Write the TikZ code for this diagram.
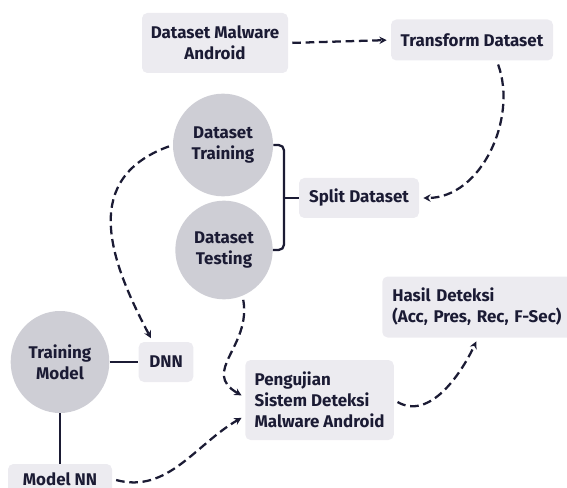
\documentclass[tikz,border=0pt]{standalone}
\usepackage{fontspec}
\setmainfont{Fira Sans}
\usepackage{tikz}
\usetikzlibrary{shapes.geometric, arrows.meta, positioning, calc}
\definecolor{myink}{RGB}{27,27,52}
\definecolor{boxgray}{RGB}{236,235,240}
\definecolor{dotgray}{RGB}{206,206,213}
\tikzset{
  block/.style={rectangle, fill=boxgray, text=myink, align=center,
    inner sep=0pt, rounded corners=4pt, font=\fontsize{12.7}{15.75}\selectfont\bfseries},
  leftblock/.style={block, align=left, inner xsep=7pt},
  blob/.style={ellipse, fill=dotgray, text=myink, align=center,
    inner sep=0pt, font=\fontsize{12.7}{15.75}\selectfont\bfseries},
  flow/.style={-{Stealth[length=5.5pt,width=5.5pt]}, line width=1.7pt, color=myink,
    dash pattern=on 6.5pt off 3.5pt, shorten >=3pt, shorten <=3pt},
  link/.style={line width=1.7pt, color=myink}
}
\begin{document}
\begin{tikzpicture}[x=0.75pt, y=-0.75pt]
  \clip (0,0) rectangle (567,488);
  % Top row
  \node[block, minimum width=109.5pt, minimum height=45pt] (dma) at (215,43) {Dataset Malware\\Android};
  \node[block, minimum width=121.5pt, minimum height=30.75pt] (tds) at (472,40) {Transform Dataset};
  
  % Split
  \node[blob, minimum width=75pt, minimum height=77pt] (train) at (223,145) {Dataset\\Training};
  \node[blob, minimum width=73pt, minimum height=74pt] (test) at (224,250) {Dataset\\Testing};
  \node[block, minimum width=90pt, minimum height=30pt] (split) at (359,198) {Split Dataset};
  \coordinate (brk) at (284,198);
  
  % Training side
  \node[blob, minimum width=74pt, minimum height=76.5pt] (tm) at (60,362) {Training\\Model};
  \node[block, minimum width=41pt, minimum height=30pt] (dnn) at (166,362) {DNN};
  \node[block, minimum width=78pt, minimum height=22.5pt] (mnn) at (60,479) {Model NN};
  
  % Testing and results
  \node[leftblock, minimum height=60pt, anchor=west] (peng) at (245,400) {Pengujian\\Sistem Deteksi\\Malware Android};
  \node[leftblock, text width=131pt, inner xsep=7.5pt, minimum height=45.75pt, anchor=west] (hasil) at (382,307) {Hasil Deteksi\\(Acc, Pres, Rec, F-Sec)};
  
  % Solid links
  \draw[link, rounded corners=4pt] (train.east) -| (brk) |- (test.east);
  \draw[link] (brk) -- (split.west);
  \draw[link] (tm.east) -- (dnn.west);
  \draw[link] (tm.south) -- (mnn.north);
  
  % Dashed flows
  \draw[flow] (dma.east) -- (tds.west);
  \draw[flow] (tds.-40) to[out=-70, in=0] (split.east);
  \draw[flow] (train.west) to[out=200, in=118, looseness=1.25] (dnn.123);
  \draw[flow] (test.-68) to[out=-80, in=150, looseness=1.3] (peng.178);
  \draw[flow] (mnn.east) to[out=-15, in=210] (peng.192);
  \draw[flow] (peng.east) to[out=-30, in=245] (hasil.-93);
\end{tikzpicture}
\end{document}
